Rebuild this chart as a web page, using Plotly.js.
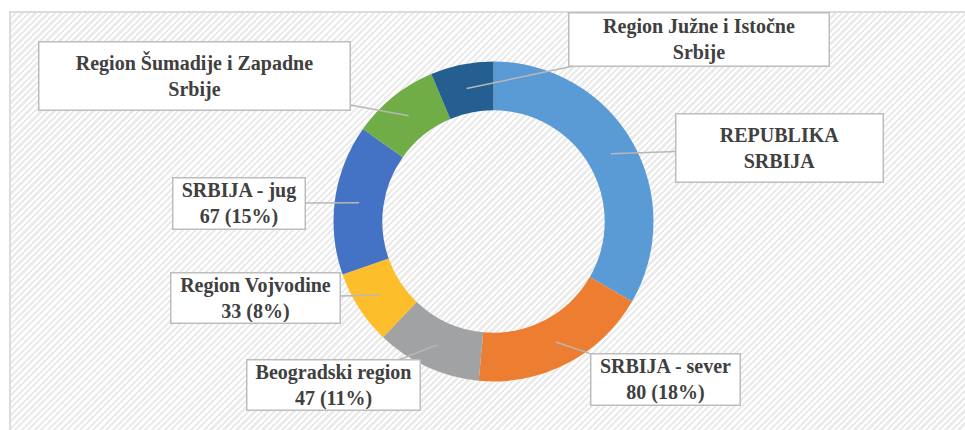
<!DOCTYPE html>
<html>
<head>
<meta charset="utf-8">
<script src="https://cdn.plot.ly/plotly-3.0.1.min.js"></script>
<style>
  html, body { margin: 0; padding: 0; background: #ffffff; }
  #wrap { position: relative; width: 965px; height: 430px; overflow: hidden; }
  #frame {
    position: absolute; left: 9px; top: 11px; width: 970px; height: 430px;
    border-left: 2px solid #dcdcdc; border-top: 2px solid #dcdcdc;
    background: repeating-linear-gradient(135deg, #ffffff 0px, #ffffff 2.3px, #ebebeb 2.3px, #ebebeb 4.6px);
  }
  #chart { position: absolute; left: 0; top: 0; width: 965px; height: 430px; }
</style>
</head>
<body>
<div id="wrap">
  <div id="frame"></div>
  <div id="chart"></div>
</div>
<script>
// ---- data ----
const labels = [
  "REPUBLIKA<br>SRBIJA",
  "SRBIJA - sever",
  "Beogradski region",
  "Region Vojvodine",
  "SRBIJA - jug",
  "Region Šumadije i Zapadne<br>Srbije",
  "Region Južne i Istočne<br>Srbije"
];
const values = [147, 80, 47, 33, 67, 39, 28];
const pctLabels = [null, 18, 11, 8, 15, null, null];
const colors = ["#5B9BD5", "#ED7D31", "#A0A2A4", "#FDBE2C", "#4472C4", "#70AD47", "#255E91"];

// ---- layout (pixel positions of the label boxes: center x, center y, width, height) ----
const W = 965, H = 430;
const boxes = [
  [779.5, 148, 209, 70],
  [665.5, 379.5, 151, 53],
  [333.5, 385, 175, 52],
  [255.5, 298, 171, 52],
  [239, 203.5, 134, 53],
  [194.5, 76, 313, 70],
  [699, 39.5, 262, 55]
];
const cx = 493.5, cy = 221.5, R = 160, hole = 0.695;
const rMid = R * (1 + hole) / 2;

const total = values.reduce((a, b) => a + b, 0);
let cum = 0;
const annotations = values.map((v, i) => {
  const mid = (cum + v / 2) / total * 2 * Math.PI;
  cum += v;
  const tx = cx + rMid * Math.sin(mid);
  const ty = cy - rMid * Math.cos(mid);
  const b = boxes[i];
  let text = labels[i];
  if (pctLabels[i] !== null) text += "<br>" + v + " (" + pctLabels[i] + "%)";
  return {
    x: tx / W, y: 1 - ty / H, xref: "paper", yref: "paper",
    ax: b[0] - tx, ay: b[1] - ty,
    text: "<b>" + text.split("<br>").join("</b><br><b>") + "</b>",
    showarrow: true, arrowhead: 0, arrowwidth: 1.5, arrowcolor: "#b8b8b8",
    standoff: 0, startstandoff: 0,
    bgcolor: "#ffffff", bordercolor: "#bdbdbd", borderwidth: 1.5, borderpad: 0,
    width: b[2] - 3, height: b[3] - 3, align: "center", valign: "middle",
    font: { family: "Liberation Serif", size: 20, color: "#404040" }
  };
});

const trace = {
  type: "pie",
  labels: labels,
  values: values,
  sort: false,
  direction: "clockwise",
  rotation: 0,
  hole: hole,
  textinfo: "none",
  hoverinfo: "skip",
  marker: { colors: colors, line: { width: 0 } },
  domain: { x: [(cx - R) / W, (cx + R) / W], y: [(H - cy - R) / H, (H - cy + R) / H] },
  showlegend: false
};

const layout = {
  width: W, height: H,
  margin: { l: 0, r: 0, t: 0, b: 0 },
  paper_bgcolor: "rgba(0,0,0,0)",
  plot_bgcolor: "rgba(0,0,0,0)",
  showlegend: false,
  annotations: annotations
};

Plotly.newPlot("chart", [trace], layout, { staticPlot: true, displayModeBar: false });
</script>
</body>
</html>
